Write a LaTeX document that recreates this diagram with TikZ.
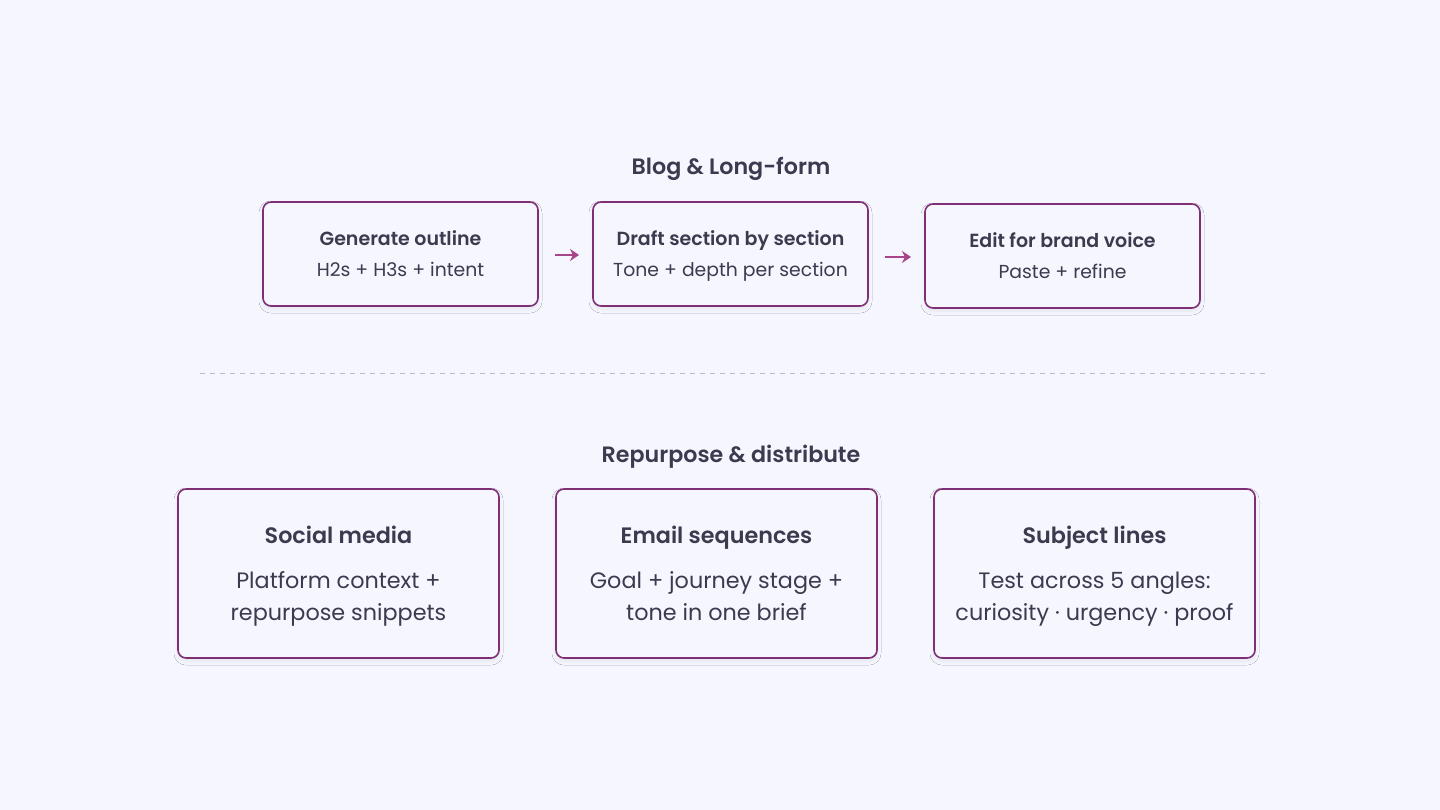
\documentclass[tikz,border=0pt]{standalone}
\usepackage{fontspec}
\setmainfont{Poppins}[BoldFont={Poppins SemiBold}]
\usetikzlibrary{arrows.meta,shadows.blur}
\definecolor{bg}{HTML}{F5F6FE}
\definecolor{txt}{HTML}{3B3A4F}
\definecolor{bord}{HTML}{7E2F76}
\definecolor{arr}{HTML}{A8458A}
\definecolor{sepcol}{HTML}{B8BAC8}
\tikzset{
  box/.style={draw=bord, line width=1.6pt, rounded corners=8pt, fill=bg,
    blur shadow={shadow xshift=0pt, shadow yshift=-3pt, shadow blur radius=4pt, shadow opacity=7, shadow blur steps=8}},
  lbl/.style={anchor=base, inner sep=0pt, text=txt},
  head/.style={lbl, font=\bfseries\fontsize{22.2}{26}\selectfont},
  stitle/.style={lbl, font=\bfseries\fontsize{19}{22}\selectfont},
  ssub/.style={lbl, font=\fontsize{18.8}{22}\selectfont},
  btitle/.style={lbl, font=\bfseries\fontsize{22.3}{26}\selectfont},
  bsub/.style={lbl, font=\fontsize{22.3}{26}\selectfont},
  flow/.style={-{Stealth[length=9pt,width=12pt,inset=3pt]}, line width=2.2pt, draw=arr},
  sepline/.style={draw=sepcol, line width=1pt, dash pattern=on 5pt off 5pt},
}
\begin{document}
\begin{tikzpicture}[x=1pt,y=-1pt]
\fill[bg] (0,0) rectangle (1440,810);
\useasboundingbox (0,0) rectangle (1440,810);

\node[head] (h1) at (731,175) {Blog \& Long-form};
\draw[box] (263,202) rectangle (538,306);
\node[stitle] (t1) at (400.5,245.5) {Generate outline};
\node[ssub] (s1) at (400.5,276.7) {H2s + H3s + intent};

\draw[box] (593,202) rectangle (868,306);
\node[stitle] (t2) at (730.5,245.5) {Draft section by section};
\node[ssub] (s2) at (730.5,276.7) {Tone + depth per section};

\draw[box] (925,204) rectangle (1200,308);
\node[stitle] (t3) at (1062.5,247.5) {Edit for brand voice};
\node[ssub] (s3) at (1062.5,278.7) {Paste + refine};

\coordinate (a1s) at (555,255); \coordinate (a1e) at (579,255);
\coordinate (a2s) at (885,257); \coordinate (a2e) at (911,257);
\draw[flow] (a1s) -- (a1e);
\draw[flow] (a2s) -- (a2e);

\coordinate (d1) at (200,373); \coordinate (d2) at (1265,373);
\draw[sepline] (d1) -- (d2);

\node[head] (h2) at (731,462) {Repurpose \& distribute};

\draw[box] (178,489) rectangle (499,658);
\node[btitle] (bt1) at (338.5,543) {Social media};
\node[bsub] (bs1a) at (338.5,588.3) {Platform context +};
\node[bsub] (bs1b) at (338.5,620) {repurpose snippets};

\draw[box] (556,489) rectangle (877,658);
\node[btitle] (bt2) at (716.5,543) {Email sequences};
\node[bsub] (bs2a) at (716.5,588.3) {Goal + journey stage +};
\node[bsub] (bs2b) at (716.5,620) {tone in one brief};

\draw[box] (934,489) rectangle (1255,658);
\node[btitle] (bt3) at (1094.5,543) {Subject lines};
\node[bsub] (bs3a) at (1094.5,588.3) {Test across 5 angles:};
\node[bsub] (bs3b) at (1094.5,620) {curiosity · urgency · proof};
\end{tikzpicture}
\end{document}
